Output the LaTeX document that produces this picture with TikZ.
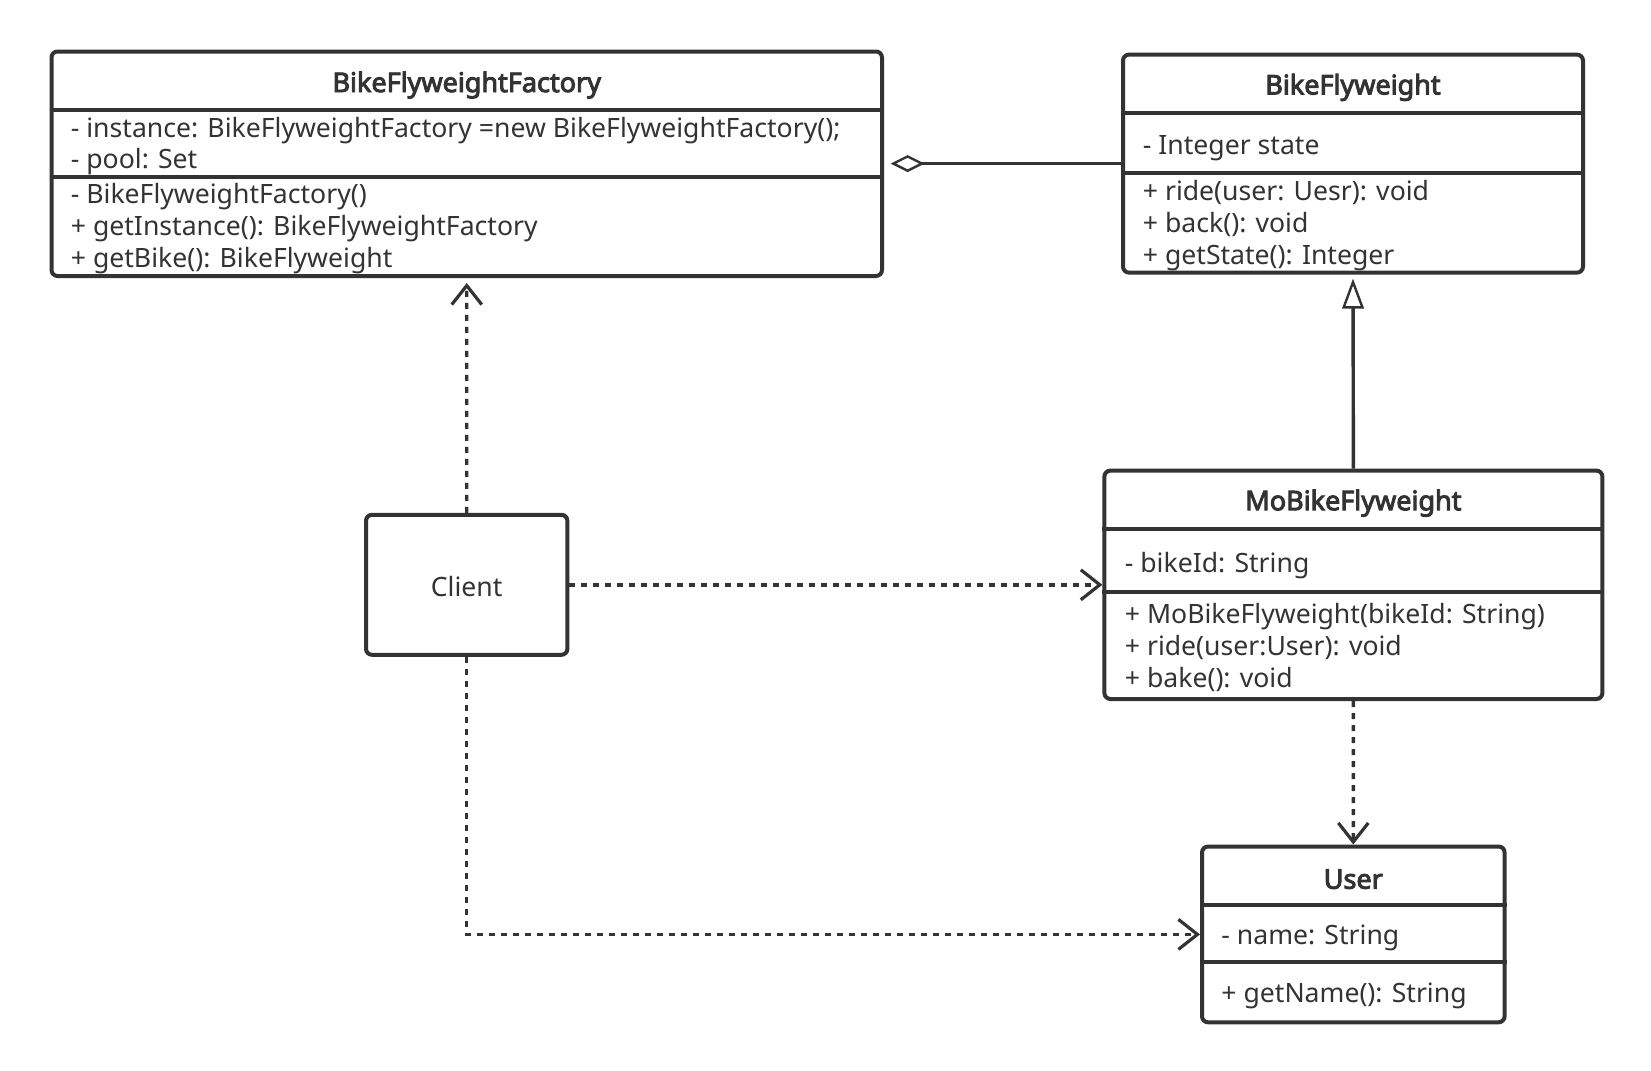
\documentclass[tikz,border=0pt]{standalone}
\usepackage{fontspec}
\setmainfont{Noto Sans}[BoldFont={Noto Sans}, BoldFeatures={FakeBold=3.5}]
\usetikzlibrary{arrows.meta,positioning,calc}
\definecolor{umlgray}{HTML}{333333}

\begin{document}
\begin{tikzpicture}[x=0.5pt, y=-0.5pt,
    classbox/.style={draw=umlgray, line width=2pt, rounded corners=3pt, anchor=north west, inner sep=0pt, fill=white},
    classname/.style={font=\bfseries\fontsize{13.5}{16}\selectfont, text=umlgray, inner sep=0pt},
    member/.style={font=\fontsize{13.3}{16}\selectfont, text=umlgray, anchor=mid west, inner sep=0pt},
    sepline/.style={draw=umlgray, line width=2pt},
    depend/.style={draw=umlgray, line width=1.7pt, dash pattern=on 3pt off 3pt,
        -{Straight Barb[length=9.5pt, width=15pt, line width=1.6pt]}},
    inherit/.style={draw=umlgray, line width=1.7pt,
        -{Triangle[open, length=15pt, width=10.8pt, line width=1.2pt, fill=white]}},
    aggreg/.style={draw=umlgray, line width=1.6pt,
        -{Diamond[open, length=17pt, width=8.5pt, line width=1.2pt, fill=white]}}]
    \useasboundingbox (0,0) rectangle (1651,1071);

    % BikeFlyweightFactory
    \node[classbox, minimum width=415.25pt, minimum height=112.25pt] (factory) at (49.5,49.5) {};
    \node[classname] (factoryname) at ($(factory.north)+(0,35.5)$) {BikeFlyweightFactory};
    \draw[sepline] ($(factory.north west)+(0,60)$) -- ($(factory.north east)+(0,60)$);
    \draw[sepline] ($(factory.north west)+(0,127.5)$) -- ($(factory.north east)+(0,127.5)$);
    \foreach \txt/\y [count=\i] in {
        {- instance: BikeFlyweightFactory =new BikeFlyweightFactory();}/132,
        {- pool: Set}/163.5,
        {- BikeFlyweightFactory()}/198,
        {+ getInstance(): BikeFlyweightFactory}/230,
        {+ getBike(): BikeFlyweight}/262.5}{
        \node[member] (factory\i) at (70.5,\y) {\txt};
    }

    % BikeFlyweight
    \node[classbox, minimum width=230pt, minimum height=109pt] (bike) at (1121,52.6) {};
    \node[classname] (bikename) at ($(bike.north)+(0,34.8)$) {BikeFlyweight};
    \draw[sepline] ($(bike.north west)+(0,60.1)$) -- ($(bike.north east)+(0,60.1)$);
    \draw[sepline] ($(bike.north west)+(0,120.1)$) -- ($(bike.north east)+(0,120.1)$);
    \foreach \txt/\y [count=\i] in {
        {- Integer state}/148.8,
        {+ ride(user: Uesr): void}/195,
        {+ back(): void}/226.7,
        {+ getState(): Integer}/259.3}{
        \node[member] (bike\i) at (1142.5,\y) {\txt};
    }

    % MoBikeFlyweight
    \node[classbox, minimum width=249pt, minimum height=114.2pt] (mobike) at (1102.4,468.6) {};
    \node[classname] (mobikename) at ($(mobike.north)+(0,34.6)$) {MoBikeFlyweight};
    \draw[sepline] ($(mobike.north west)+(0,60)$) -- ($(mobike.north east)+(0,60)$);
    \draw[sepline] ($(mobike.north west)+(0,123.2)$) -- ($(mobike.north east)+(0,123.2)$);
    \foreach \txt/\y [count=\i] in {
        {- bikeId: String}/566.8,
        {+ MoBikeFlyweight(bikeId: String)}/618.3,
        {+ ride(user:User): void}/650,
        {+ bake(): void}/682.5}{
        \node[member] (mobike\i) at (1124.5,\y) {\txt};
    }

    % User
    \node[classbox, minimum width=151.3pt, minimum height=87.9pt] (user) at (1200,844.5) {};
    \node[classname] (username) at ($(user.north)+(0,34.7)$) {User};
    \draw[sepline] ($(user.north west)+(0,60)$) -- ($(user.north east)+(0,60)$);
    \draw[sepline] ($(user.north west)+(0,117.9)$) -- ($(user.north east)+(0,117.9)$);
    \node[member] (user1) at (1221,939.5) {- name: String};
    \node[member] (user2) at (1221,997.5) {+ getName(): String};

    % Client
    \node[classbox, minimum width=100.7pt, minimum height=70pt] (client) at (364,512.8) {};
    \node[member, anchor=center] (clientname) at ($(client.center)+(0,2)$) {Client};

    % 关系
    \draw[aggreg, shorten >=3.3pt] (bike.west) -- (bike.west -| factory.east);
    \draw[inherit, shorten >=2pt] (mobike.north) -- (bike.south);
    \draw[depend, shorten >=2.5pt] (client.north) -- (factory.south);
    \draw[depend] (client.east) -- (client.east -| mobike.west);
    \draw[depend] (client.south) |- (user.west);
    \draw[depend] (mobike.south) -- (user.north);
\end{tikzpicture}
\end{document}
